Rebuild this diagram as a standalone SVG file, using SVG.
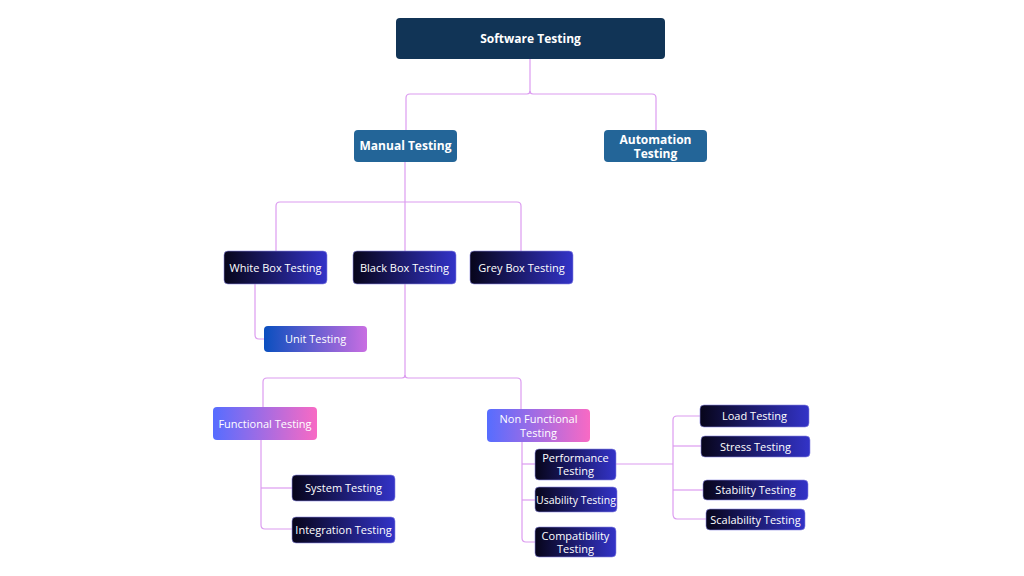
<svg xmlns="http://www.w3.org/2000/svg" width="1024" height="576" viewBox="0 0 1024 576">
<defs>
<linearGradient id="dark" x1="0" y1="0" x2="1" y2="0"><stop offset="0" stop-color="#07051a"/><stop offset="1" stop-color="#3333c8"/></linearGradient>
<linearGradient id="unit" x1="0" y1="0" x2="1" y2="0"><stop offset="0" stop-color="#0a4fbf"/><stop offset="1" stop-color="#c96ee2"/></linearGradient>
<linearGradient id="func" x1="0" y1="0" x2="1" y2="0"><stop offset="0" stop-color="#566dff"/><stop offset="1" stop-color="#f86ac4"/></linearGradient>
</defs>
<style>
.c{fill:none;stroke:#dc9cf0;stroke-width:1.2}
.t{font-family:"Open Sans","Noto Sans",sans-serif;fill:#fff;text-anchor:middle}
.b{font-weight:bold;font-size:12px}
.n{font-size:11px}
.dk rect{fill:url(#dark);stroke:#8a86e0;stroke-width:0.6}
</style>
<rect width="1024" height="576" fill="#fff"/>
<g id="connectors">
<path class="c" d="M530 59V91q0 3 -3 3H410q-4 0 -4 4V130"/>
<path class="c" d="M530 91q0 3 3 3H652q4 0 4 4V130"/>
<path class="c" d="M405 162V284"/>
<path class="c" d="M405 202H280q-4 0 -4 4V251"/>
<path class="c" d="M405 202H517q4 0 4 4V251"/>
<path class="c" d="M255 284V335q0 4 4 4H264"/>
<path class="c" d="M405 284V375q0 3 -3 3H267q-4 0 -4 4V407"/>
<path class="c" d="M405 375q0 3 3 3H517q4 0 4 4V409"/>
<path class="c" d="M261 440V525q0 4 4 4H292"/>
<path class="c" d="M261 488H292"/>
<path class="c" d="M522 442V538q0 4 4 4H535"/>
<path class="c" d="M522 464H535"/>
<path class="c" d="M522 500H535"/>
<path class="c" d="M616 464H673"/>
<path class="c" d="M673 420q0 -4 4 -4H700"/>
<path class="c" d="M673 420V514q0 5 4 5H706"/>
<path class="c" d="M673 446H701"/>
<path class="c" d="M673 490H703"/>
</g>
<g id="software-testing"><rect x="396" y="18" width="269" height="41" rx="4" fill="#113456"/><text class="t b" x="530.5" y="43">Software Testing</text></g>
<g id="manual-testing"><rect x="354" y="130" width="103" height="32" rx="4" fill="#236598"/><text class="t b" x="405.5" y="150">Manual Testing</text></g>
<g id="automation-testing"><rect x="604" y="130" width="103" height="32" rx="4" fill="#236598"/><text class="t b" x="655.5" y="143.5">Automation</text><text class="t b" x="655.5" y="157.5">Testing</text></g>
<g id="white-box" class="dk"><rect x="224" y="251" width="103" height="33" rx="4"/><text class="t n" x="275.5" y="271.5">White Box Testing</text></g>
<g id="black-box" class="dk"><rect x="353" y="251" width="103" height="33" rx="4"/><text class="t n" x="404.5" y="271.5">Black Box Testing</text></g>
<g id="grey-box" class="dk"><rect x="470" y="251" width="103" height="33" rx="4"/><text class="t n" x="521.5" y="271.5">Grey Box Testing</text></g>
<g id="unit-testing"><rect x="264" y="326" width="103" height="26" rx="4" fill="url(#unit)"/><text class="t n" x="315.5" y="343">Unit Testing</text></g>
<g id="functional-testing"><rect x="213" y="407" width="104" height="33" rx="4" fill="url(#func)"/><text class="t n" x="265" y="428">Functional Testing</text></g>
<g id="non-functional-testing"><rect x="487" y="409" width="103" height="33" rx="4" fill="url(#func)"/><text class="t n" x="538.5" y="423">Non Functional</text><text class="t n" x="538.5" y="437">Testing</text></g>
<g id="system-testing" class="dk"><rect x="292" y="475" width="103" height="26" rx="4"/><text class="t n" x="343.5" y="492">System Testing</text></g>
<g id="integration-testing" class="dk"><rect x="292" y="517" width="103" height="26" rx="4"/><text class="t n" x="343.5" y="534">Integration Testing</text></g>
<g id="performance-testing" class="dk"><rect x="535" y="449" width="81" height="31" rx="4"/><text class="t n" x="575.5" y="462">Performance</text><text class="t n" x="575.5" y="475">Testing</text></g>
<g id="usability-testing" class="dk"><rect x="535" y="487" width="82" height="25" rx="4"/><text class="t" x="576" y="503.5" font-size="10.5">Usability Testing</text></g>
<g id="compatibility-testing" class="dk"><rect x="535" y="527" width="81" height="30" rx="4"/><text class="t n" x="575.5" y="540">Compatibility</text><text class="t n" x="575.5" y="553">Testing</text></g>
<g id="load-testing" class="dk"><rect x="700" y="405" width="109" height="22" rx="4"/><text class="t n" x="754.5" y="420">Load Testing</text></g>
<g id="stress-testing" class="dk"><rect x="701" y="436" width="109" height="21" rx="4"/><text class="t n" x="755.5" y="450.5">Stress Testing</text></g>
<g id="stability-testing" class="dk"><rect x="703" y="480" width="105" height="20" rx="4"/><text class="t n" x="755.5" y="494">Stability Testing</text></g>
<g id="scalability-testing" class="dk"><rect x="706" y="509" width="99" height="21" rx="4"/><text class="t n" x="755.5" y="523.5">Scalability Testing</text></g>
</svg>
